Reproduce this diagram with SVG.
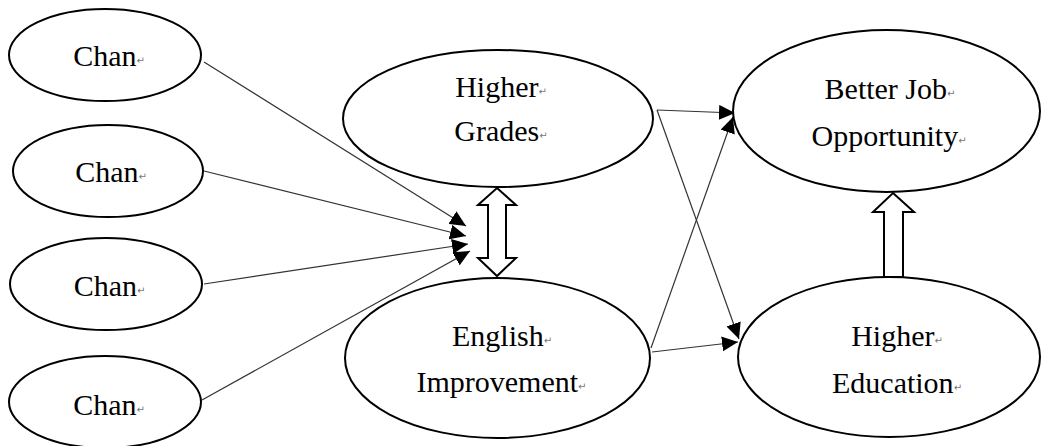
<svg xmlns="http://www.w3.org/2000/svg" width="1041" height="446" viewBox="0 0 1041 446">
<style>
.node ellipse{fill:#fff;stroke:#000;stroke-width:2}
.t{font-family:"Liberation Serif","Times New Roman",serif;font-size:30px;fill:#000;text-anchor:middle}
.rm{font-family:"DejaVu Sans",sans-serif;font-size:10px;fill:#777}
.edge{stroke:#333;stroke-width:1.2;fill:none;marker-end:url(#ah)}
.block{fill:#fff;stroke:#000;stroke-width:2;stroke-linejoin:miter}
</style>
<defs>
<marker id="ah" markerUnits="userSpaceOnUse" markerWidth="17" markerHeight="15" refX="16" refY="7.5" orient="auto">
<path d="M0,0 L16,7.5 L0,15 Z" fill="#000"/>
</marker>
</defs>
<rect width="1041" height="446" fill="#fff"/>
<g id="connectors">
<line class="edge" x1="204" y1="62" x2="466" y2="226"/>
<line class="edge" x1="204" y1="171" x2="466" y2="236"/>
<line class="edge" x1="204" y1="284" x2="468" y2="244"/>
<line class="edge" x1="202" y1="400" x2="470" y2="251"/>
<line class="edge" x1="657" y1="110" x2="735" y2="113"/>
<line class="edge" x1="657" y1="110" x2="739" y2="339"/>
<line class="edge" x1="651" y1="348" x2="733" y2="117"/>
<line class="edge" x1="652" y1="352" x2="738" y2="342"/>
<polygon class="block" points="497,188 516,205 506,205 506,258 516,258 497,276 478,258 488,258 488,205 478,205"/>
<polygon class="block" points="893,193 914,212 903,212 903,277 884,277 884,212 873,212"/>
</g>
<g id="chan1" class="node"><ellipse cx="105" cy="55" rx="96" ry="46"/><text class="t" x="109" y="66">Chan<tspan class="rm" dy="-2">↵</tspan></text></g>
<g id="chan2" class="node"><ellipse cx="108" cy="171" rx="95" ry="46"/><text class="t" x="111" y="182">Chan<tspan class="rm" dy="-2">↵</tspan></text></g>
<g id="chan3" class="node"><ellipse cx="106" cy="284" rx="96" ry="46"/><text class="t" x="109.5" y="296">Chan<tspan class="rm" dy="-2">↵</tspan></text></g>
<g id="chan4" class="node"><ellipse cx="105" cy="402" rx="96" ry="46"/><text class="t" x="109" y="415">Chan<tspan class="rm" dy="-2">↵</tspan></text></g>
<g id="higher-grades" class="node"><ellipse cx="498" cy="118.5" rx="155" ry="68.5"/>
<text class="t" x="501" y="97">Higher<tspan class="rm" dy="-2">↵</tspan></text>
<text class="t" x="501" y="141">Grades<tspan class="rm" dy="-2">↵</tspan></text></g>
<g id="english-improvement" class="node"><ellipse cx="497.5" cy="358" rx="152.5" ry="80"/>
<text class="t" x="502" y="346">English<tspan class="rm" dy="-2">↵</tspan></text>
<text class="t" x="501.5" y="392">Improvement<tspan class="rm" dy="-2">↵</tspan></text></g>
<g id="better-job" class="node"><ellipse cx="886.5" cy="111" rx="153.5" ry="81"/>
<text class="t" x="890" y="99">Better Job<tspan class="rm" dy="-2">↵</tspan></text>
<text class="t" x="889" y="146">Opportunity<tspan class="rm" dy="-2">↵</tspan></text></g>
<g id="higher-education" class="node"><ellipse cx="889" cy="357" rx="151" ry="80"/>
<text class="t" x="897" y="346">Higher<tspan class="rm" dy="-2">↵</tspan></text>
<text class="t" x="897" y="393">Education<tspan class="rm" dy="-2">↵</tspan></text></g>
</svg>
